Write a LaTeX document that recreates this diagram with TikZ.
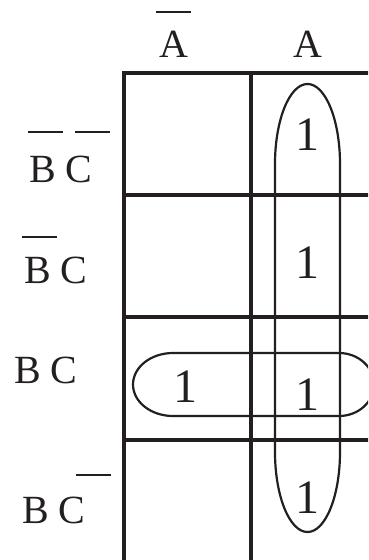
\documentclass[tikz,border=0pt]{standalone}
\usepackage{fontspec}
\setmainfont{Liberation Serif}
\definecolor{ink}{HTML}{231F20}
\begin{document}
\begin{tikzpicture}[x=1pt,y=1pt,
  grid/.style={draw=ink,line width=3.2pt},
  loop/.style={draw=ink,line width=2.2pt},
  bar/.style={draw=ink,line width=2.6pt},
  lbl/.style={inner sep=0pt,text=ink,font=\fontsize{40}{40}\selectfont},
  one/.style={inner sep=0pt,anchor=base,text=ink,font=\fontsize{48}{48}\selectfont}]
\useasboundingbox (0,0) rectangle (368,-560);
\clip (0,0) rectangle (368,-560);
\fill[white] (0,0) rectangle (368,-560);
% grid
\draw[grid] (124,-73) rectangle (378,-563);
\draw[grid] (251,-73) -- (251,-563);
\draw[grid] (124,-195) -- (378,-195);
\draw[grid] (124,-317) -- (378,-317);
\draw[grid] (124,-440) -- (378,-440);
% column labels
\node[lbl,anchor=base] (nA) at (174,-57) {A};
\node[lbl,anchor=base] (A) at (308,-57) {A};
\draw[bar] (156,-12) -- (191,-12);
% row labels
\node[lbl,anchor=base west] (r1) at (29,-182) {B C};
\draw[bar] (28,-132) -- (63,-132);
\draw[bar] (75,-132) -- (110,-132);
\node[lbl,anchor=base west] (r2) at (24,-283) {B C};
\draw[bar] (22,-237) -- (57,-237);
\node[lbl,anchor=base west] (r3) at (14,-383) {B C};
\node[lbl,anchor=base west] (r4) at (22,-523) {B C};
\draw[bar] (76,-475) -- (111,-475);
% ones
\node[one] (o1) at (307,-150) {1};
\node[one] (o2) at (307,-278) {1};
\node[one] (o3) at (307,-410) {1};
\node[one] (o3l) at (185,-402) {1};
\node[one] (o4) at (307,-513) {1};
% loops
\draw[loop] (275,-164) -- (275,-452)
  arc[start angle=180,end angle=360,x radius=32.5,y radius=80]
  -- (340,-164)
  arc[start angle=0,end angle=180,x radius=32.5,y radius=80] -- cycle;
\draw[loop] (173,-353) -- (339,-353)
  arc[start angle=90,end angle=-90,x radius=35,y radius=31.5]
  -- (173,-416)
  arc[start angle=270,end angle=90,x radius=40,y radius=31.5] -- cycle;
\end{tikzpicture}
\end{document}
